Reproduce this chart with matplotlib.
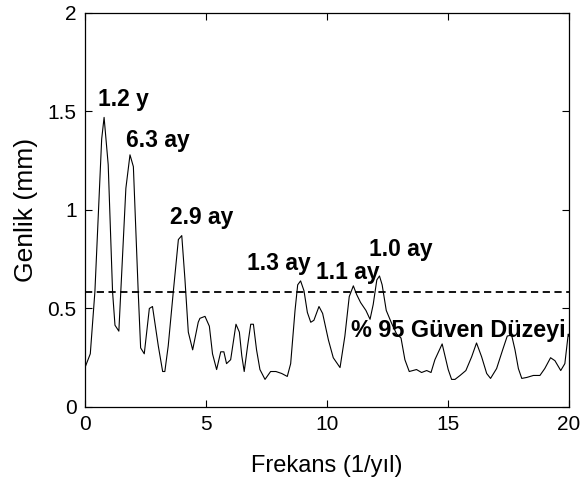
import matplotlib
matplotlib.use("Agg")
import matplotlib.pyplot as plt

plt.rcParams['font.family'] = ['Liberation Sans', 'DejaVu Sans']

# spectrum
frekans = [0.00, 0.22, 0.41, 0.69, 0.79, 0.96, 1.14, 1.24, 1.40, 1.69, 1.86, 2.00,
           2.20, 2.30, 2.45, 2.66, 2.79, 3.03, 3.21, 3.30, 3.44, 3.65, 3.86, 4.00,
           4.13, 4.27, 4.45, 4.68, 4.75, 4.96, 5.14, 5.27, 5.44, 5.61, 5.74, 5.85,
           6.02, 6.24, 6.38, 6.48, 6.58, 6.72, 6.85, 6.96, 7.09, 7.23, 7.44, 7.67,
           7.89, 8.13, 8.36, 8.50, 8.68, 8.79, 8.91, 9.05, 9.19, 9.33, 9.46, 9.67,
           9.82, 10.06, 10.26, 10.54, 10.74, 10.92, 11.09, 11.23, 11.39, 11.61, 11.78,
           11.91, 12.06, 12.17, 12.28, 12.45, 12.67, 12.88, 13.06, 13.22, 13.40, 13.70,
           13.91, 14.12, 14.30, 14.46, 14.76, 15.01, 15.15, 15.29, 15.50, 15.74, 15.98,
           16.18, 16.39, 16.60, 16.76, 17.01, 17.26, 17.45, 17.63, 17.77, 17.91, 18.05,
           18.26, 18.53, 18.80, 19.00, 19.24, 19.42, 19.66, 19.83, 19.97, 20.00]
genlik = [0.20, 0.27, 0.585, 1.36, 1.47, 1.23, 0.585, 0.415, 0.385, 1.11, 1.28, 1.22,
          0.585, 0.30, 0.27, 0.50, 0.51, 0.31, 0.18, 0.18, 0.31, 0.585, 0.85, 0.87,
          0.65, 0.38, 0.29, 0.43, 0.45, 0.46, 0.41, 0.27, 0.19, 0.28, 0.28, 0.22,
          0.24, 0.42, 0.38, 0.26, 0.18, 0.31, 0.42, 0.42, 0.29, 0.19, 0.14, 0.18,
          0.18, 0.17, 0.155, 0.22, 0.49, 0.62, 0.64, 0.59, 0.48, 0.43, 0.44, 0.51,
          0.475, 0.34, 0.25, 0.20, 0.36, 0.56, 0.615, 0.57, 0.53, 0.49, 0.445,
          0.52, 0.645, 0.665, 0.62, 0.49, 0.425, 0.37, 0.35, 0.24, 0.18, 0.19,
          0.175, 0.185, 0.175, 0.24, 0.32, 0.19, 0.14, 0.14, 0.16, 0.185, 0.255,
          0.325, 0.255, 0.17, 0.145, 0.195, 0.29, 0.36, 0.365, 0.29, 0.195, 0.145,
          0.15, 0.16, 0.16, 0.195, 0.25, 0.235, 0.185, 0.22, 0.37, 0.36]
guven = 0.585

# peak labels: text, x, y
etiketler = ["1.2 y", "6.3 ay", "2.9 ay", "1.3 ay", "1.1 ay", "1.0 ay"]
etiket_x = [0.54, 1.69, 3.51, 6.69, 9.55, 11.74]
etiket_y = [1.56, 1.355, 0.96, 0.726, 0.685, 0.80]

fig = plt.figure(figsize=(5.82, 4.86), dpi=100)
ax = fig.add_axes([0.146, 0.1626, 0.8316, 0.8107])

ax.plot(frekans, genlik, color='black', linewidth=0.8)
ax.axhline(guven, color='black', linestyle=(0, (4, 2.5)), linewidth=1.3)

for t, x, y in zip(etiketler, etiket_x, etiket_y):
    ax.text(x, y, t, fontsize=16.5, fontweight='bold', va='center', ha='left')
ax.text(10.99, 0.386, "% 95 Güven Düzeyi", fontsize=16.8, fontweight='bold',
        va='center', ha='left')

ax.set_xlim(0, 20)
ax.set_ylim(0, 2)
ax.set_xticks([0, 5, 10, 15, 20])
ax.set_xticklabels(["0", "5", "10", "15", "20"])
ax.set_yticks([0, 0.5, 1, 1.5, 2])
ax.set_yticklabels(["0", "0.5", "1", "1.5", "2"])
ax.tick_params(direction='in', length=5, width=0.8, top=True, right=True,
               labelsize=15, pad=6)
for s in ax.spines.values():
    s.set_linewidth(0.9)

ax.set_xlabel("Frekans (1/yıl)", fontsize=17, labelpad=15)
ax.set_ylabel("Genlik (mm)", fontsize=19, labelpad=7)

plt.savefig("out.png", dpi=100)
